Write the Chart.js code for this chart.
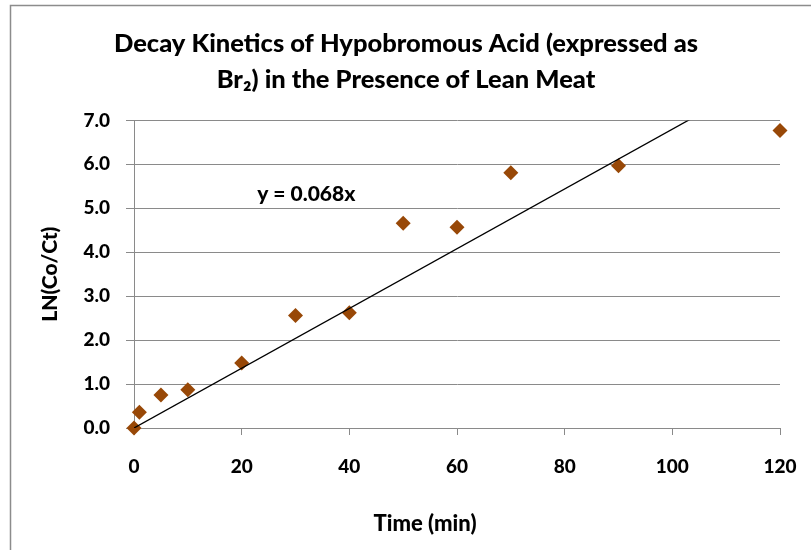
<!DOCTYPE html>
<html lang="en">
<head>
  <meta charset="UTF-8" />
  <title>Decay Kinetics of Hypobromous Acid</title>
  <script src="https://cdn.jsdelivr.net/npm/chart.js"></script>
  <style>
    html, body { margin: 0; padding: 0; background: #fff; }
    #wrap { width: 811px; height: 550px; position: relative; }
  </style>
</head>
<body>
  <div id="wrap"><canvas id="decayChart" width="811" height="550"></canvas></div>

  <script>
    // data
    const timeMin = [0, 1, 5, 10, 20, 30, 40, 50, 60, 70, 90, 120];
    const lnRatio = [0, 0.36, 0.75, 0.87, 1.48, 2.56, 2.62, 4.66, 4.57, 5.81, 5.97, 6.77];
    const trendSlope = 0.068;
    const xTicks = [0, 20, 40, 60, 80, 100, 120];
    const yTicks = [0, 1, 2, 3, 4, 5, 6, 7];

    const titleLines = ["Decay Kinetics of Hypobromous Acid (expressed as", "Br\u2082) in the Presence of Lean Meat"];
    const xTitle = "Time (min)";
    const yTitle = "LN(Co/Ct)";
    const equation = "y = 0.068x";

    const FONT = "Lato, 'Open Sans', sans-serif";
    const GRID = "#8a8a8a";

    const points = timeMin.map((t, i) => ({ x: t, y: lnRatio[i] }));
    const xMax = xTicks[xTicks.length - 1];
    const trend = [{ x: 0, y: 0 }, { x: xMax, y: trendSlope * xMax }];

    // frame, equation label and x axis title
    const extras = {
      id: "extras",
      beforeDraw(chart) {
        const ctx = chart.ctx;
        ctx.save();
        ctx.strokeStyle = "#8c8c8c";
        ctx.lineWidth = 1.5;
        ctx.beginPath();
        ctx.moveTo(10.5, 560);
        ctx.lineTo(10.5, 5.5);
        ctx.lineTo(820, 5.5);
        ctx.stroke();
        ctx.restore();
      },
      afterDraw(chart) {
        const ctx = chart.ctx;
        const xs = chart.scales.x, ys = chart.scales.y;
        ctx.save();
        ctx.fillStyle = "#000";
        ctx.textAlign = "center";
        ctx.textBaseline = "middle";
        ctx.font = "900 21px " + FONT;
        ctx.fillText(equation, xs.getPixelForValue(32), ys.getPixelForValue(5.32));
        ctx.font = "900 22px " + FONT;
        ctx.fillText(xTitle, 425, 524);
        ctx.restore();
      }
    };

    new Chart(document.getElementById("decayChart"), {
      type: "scatter",
      data: {
        datasets: [
          {
            type: "line",
            label: "trend",
            data: trend,
            borderColor: "#000",
            borderWidth: 1.3,
            pointRadius: 0,
            fill: false,
            clip: 0
          },
          {
            label: yTitle,
            data: points,
            pointStyle: "rectRot",
            pointRadius: 7.5,
            pointHoverRadius: 7.5,
            backgroundColor: "#984807",
            borderColor: "#984807",
            borderWidth: 0,
            clip: false
          }
        ]
      },
      options: {
        responsive: false,
        animation: false,
        events: [],
        layout: { padding: { left: 32, right: 31, top: 0, bottom: 0 } },
        plugins: {
          legend: { display: false },
          tooltip: { enabled: false },
          title: {
            display: true,
            text: titleLines,
            color: "#000",
            font: { family: FONT, size: 25.5, weight: 900, lineHeight: 1.4 },
            padding: { top: 26, bottom: 23 }
          }
        },
        scales: {
          x: {
            type: "linear",
            min: 0,
            max: xMax,
            afterBuildTicks(scale) { scale.ticks = xTicks.map(v => ({ value: v })); },
            afterFit(scale) {
              scale.height = 122;
              scale.paddingLeft = 0;
              scale.paddingRight = 0;
            },
            grid: { drawOnChartArea: false, drawTicks: true, tickLength: 7, color: GRID, lineWidth: 1 },
            border: { color: GRID, width: 1 },
            ticks: { color: "#000", padding: 20, maxRotation: 0, font: { family: FONT, size: 19, weight: 900 } }
          },
          y: {
            type: "linear",
            min: 0,
            max: yTicks[yTicks.length - 1],
            afterBuildTicks(scale) { scale.ticks = yTicks.map(v => ({ value: v })); },
            afterFit(scale) { scale.width = 102; },
            grid: { color: GRID, lineWidth: 1, drawTicks: true, tickLength: 8 },
            border: { color: GRID, width: 1 },
            ticks: {
              color: "#000",
              padding: 16,
              font: { family: FONT, size: 19, weight: 900 },
              callback: v => v.toFixed(1)
            },
            title: {
              display: true,
              text: yTitle,
              color: "#000",
              padding: { top: 6, bottom: 0 },
              font: { family: FONT, size: 21, weight: 900 }
            }
          }
        }
      },
      plugins: [extras]
    });
  </script>
</body>
</html>
